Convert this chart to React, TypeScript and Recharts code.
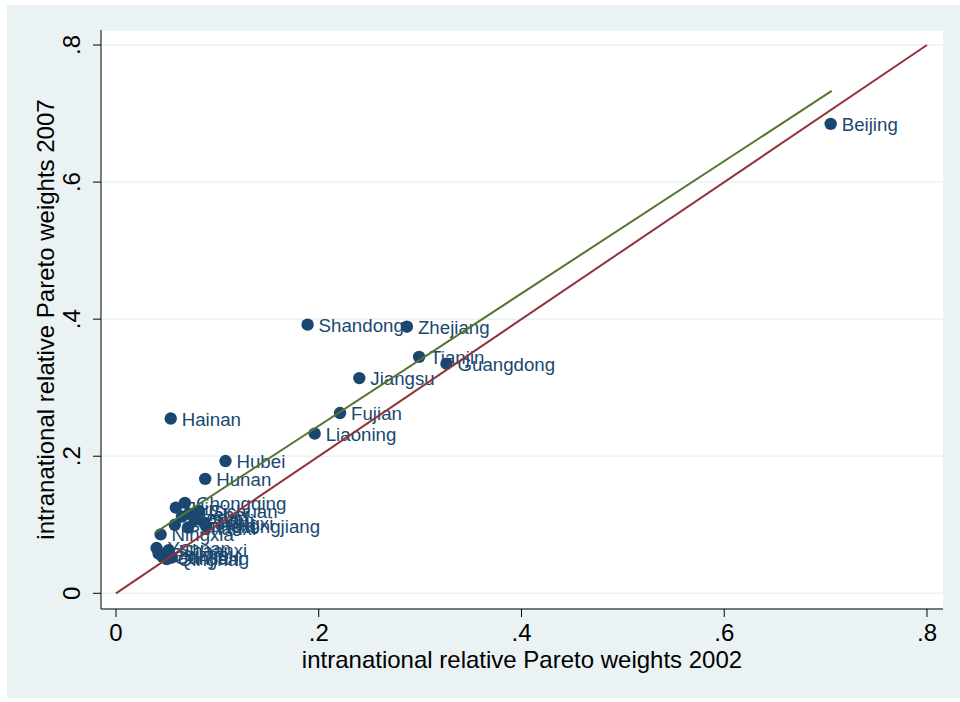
import { ScatterChart, Scatter, XAxis, YAxis, CartesianGrid } from "recharts";

// Relative Pareto weights by province, 2002 vs 2007
const provinces = [
  "Beijing", "Shandong", "Zhejiang", "Tianjin", "Guangdong", "Jiangsu", "Fujian", "Liaoning",
  "Hainan", "Hubei", "Hunan", "Jilin", "Hebei", "Henan", "Sichuan", "Anhui", "Jiangxi",
  "Guangxi", "Shanxi", "Chongqing", "Heilongjiang", "Ningxia", "Yunnan", "Guizhou", "Gansu",
  "Qinghai", "Shaanxi", "Xinjiang",
];
const weights2002 = [
  0.705, 0.189, 0.287, 0.299, 0.326, 0.240, 0.221, 0.196,
  0.054, 0.108, 0.088, 0.059, 0.072, 0.065, 0.082, 0.078, 0.087,
  0.058, 0.071, 0.068, 0.089, 0.044, 0.040, 0.042, 0.046,
  0.050, 0.052, 0.055,
];
const weights2007 = [
  0.685, 0.392, 0.389, 0.345, 0.335, 0.314, 0.263, 0.233,
  0.255, 0.193, 0.167, 0.125, 0.116, 0.112, 0.120, 0.107, 0.103,
  0.100, 0.096, 0.132, 0.098, 0.086, 0.066, 0.058, 0.053,
  0.050, 0.063, 0.052,
];

// linear fit (endpoints over the observed 2002 range) and the 45-degree line
const fitX = [0.0385, 0.706];
const fitY = [0.0883, 0.733];
const diagX = [0, 0.8];
const diagY = [0, 0.8];

const ticks = [0, 0.2, 0.4, 0.6, 0.8];

const NAVY = "#1a476f";
const MAROON = "#90353b";
const GREEN = "#55752f";
const BG = "#eaf2f3";
const FONT = "'Liberation Sans', Arial, sans-serif";

const points = provinces.map((name, i) => ({ name, x: weights2002[i], y: weights2007[i] }));
const fitLine = fitX.map((x, i) => ({ x, y: fitY[i] }));
const diagLine = diagX.map((x, i) => ({ x, y: diagY[i] }));

const fmt = (v: number) => (v === 0 ? "0" : String(v).replace(/^0\./, "."));

const XTick = (props: any) => {
  const { x, y, payload } = props;
  return (
    <text x={x} y={y + 22} textAnchor="middle" fontSize={24} fontFamily={FONT} fill="#000">
      {fmt(payload.value)}
    </text>
  );
};

const YTick = (props: any) => {
  const { x, y, payload } = props;
  const bx = x - 11;
  return (
    <text x={bx} y={y} transform={`rotate(-90 ${bx} ${y})`} textAnchor="middle" fontSize={24} fontFamily={FONT} fill="#000">
      {fmt(payload.value)}
    </text>
  );
};

const Dot = (props: any) => <circle cx={props.cx} cy={props.cy} r={6.2} fill={NAVY} />;

const Name = (props: any) => (
  <text x={props.cx + 11} y={props.cy + 7} fontSize={18.7} fontFamily={FONT} fill={NAVY}>
    {props.payload.name}
  </text>
);

const NoMark = () => <g />;

export default function App() {
  return (
    <div style={{ position: "absolute", left: 0, top: 0, width: 960, height: 702, background: "#fff" }}>
      <div style={{ position: "absolute", left: 7, top: 5, width: 953, height: 693, background: BG }} />
      <div style={{ position: "absolute", left: 0, top: 0 }}>
        <ScatterChart width={960} height={702} margin={{ top: 30, right: 17, bottom: 33, left: 41 }}>
          <CartesianGrid vertical={false} stroke={BG} strokeWidth={1.5} fill="#fff" fillOpacity={1} />
          <XAxis
            type="number"
            dataKey="x"
            domain={[-0.0148, 0.8158]}
            ticks={ticks}
            allowDataOverflow
            height={60}
            tickSize={8}
            axisLine={{ stroke: "#000" }}
            tickLine={{ stroke: "#000" }}
            tick={<XTick />}
            label={{
              content: (p: any) => {
                const vb = p.viewBox;
                return (
                  <text x={vb.x + vb.width / 2} y={668} textAnchor="middle" fontSize={24} fontFamily={FONT} fill="#000">
                    intranational relative Pareto weights 2002
                  </text>
                );
              },
            }}
          />
          <YAxis
            type="number"
            dataKey="y"
            domain={[-0.0229, 0.8219]}
            ticks={ticks}
            allowDataOverflow
            width={60}
            tickSize={8}
            axisLine={{ stroke: "#000" }}
            tickLine={{ stroke: "#000" }}
            tick={<YTick />}
            label={{
              content: (p: any) => {
                const vb = p.viewBox;
                const cy = vb.y + vb.height / 2;
                return (
                  <text x={54} y={cy} transform={`rotate(-90 54 ${cy})`} textAnchor="middle" fontSize={24} fontFamily={FONT} fill="#000">
                    intranational relative Pareto weights 2007
                  </text>
                );
              },
            }}
          />
          <Scatter data={points} shape={Dot} isAnimationActive={false} />
          <Scatter data={points} shape={Name} isAnimationActive={false} />
          <Scatter data={fitLine} shape={NoMark} line={{ stroke: GREEN, strokeWidth: 2 }} isAnimationActive={false} />
          <Scatter data={diagLine} shape={NoMark} line={{ stroke: MAROON, strokeWidth: 2 }} isAnimationActive={false} />
        </ScatterChart>
      </div>
    </div>
  );
}
